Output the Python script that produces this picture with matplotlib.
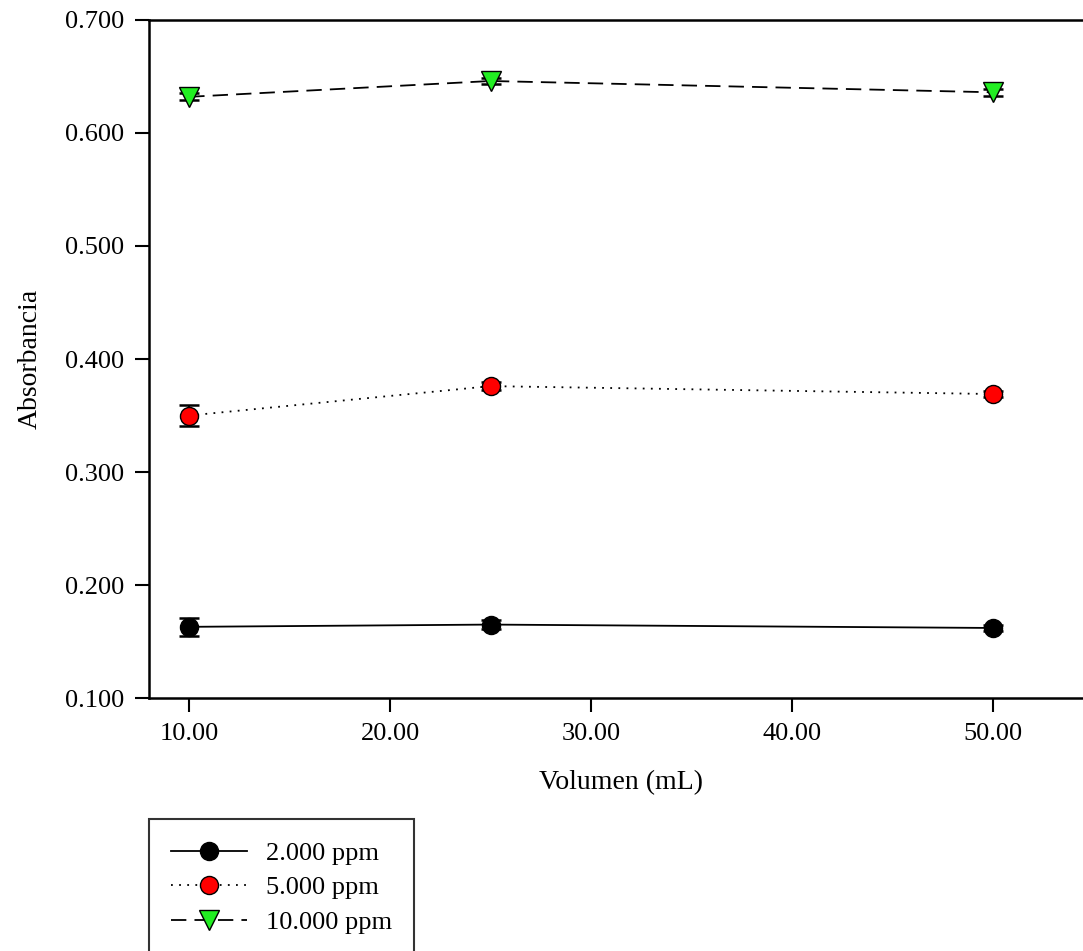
"""
absorbancia vs volumen - three concentrations with error bars
"""

import numpy as np
import matplotlib
matplotlib.use("Agg")
import matplotlib.pyplot as plt

plt.rcParams['font.family'] = ['Liberation Serif', 'DejaVu Serif']

volumen = [10, 25, 50]

abs_2000 = [0.163, 0.165, 0.162]
err_2000 = [0.008, 0.004, 0.003]

abs_5000 = [0.350, 0.376, 0.369]
err_5000 = [0.009, 0.0035, 0.003]

abs_10000 = [0.632, 0.646, 0.636]
err_10000 = [0.003, 0.003, 0.003]

labels = ['2.000 ppm', '5.000 ppm', '10.000 ppm']
xticks = [10, 20, 30, 40, 50]
yticks = [0.1, 0.2, 0.3, 0.4, 0.5, 0.6, 0.7]

fig = plt.figure(figsize=(10.83, 9.51), dpi=100)
ax = fig.add_axes([0.1376, 0.266, 0.872, 0.713])

series = [
    (abs_2000, err_2000, 'black', 'o', 13, '-'),
    (abs_5000, err_5000, 'red', 'o', 13, (0, (1, 3.5))),
    (abs_10000, err_10000, '#22ee22', 'v', 14, (0, (8.5, 4.5))),
]

handles = []
for (y, e, col, mk, ms, ls), lab in zip(series, labels):
    ax.errorbar(volumen, y, yerr=e, fmt='none', ecolor='black',
                elinewidth=1.5, capsize=7.5, capthick=1.8, zorder=2)
    h, = ax.plot(volumen, y, color='black', linestyle=ls, linewidth=1.3,
                 marker=mk, markersize=ms, markerfacecolor=col,
                 markeredgecolor='black', markeredgewidth=1.0, label=lab,
                 zorder=3)
    handles.append(h)

ax.set_xlim(8, 55)
ax.set_ylim(0.1, 0.7)
ax.set_xticks(xticks)
ax.set_xticklabels(['%.2f' % v for v in xticks])
ax.set_yticks(yticks)
ax.set_yticklabels(['%.3f' % v for v in yticks])
ax.tick_params(direction='out', length=10, width=1.5, labelsize=19, pad=8)

for s in ['left', 'bottom', 'top']:
    ax.spines[s].set_linewidth(1.8)
ax.spines['right'].set_visible(False)

ax.set_xlabel('Volumen (mL)', fontsize=20, labelpad=18)
ax.set_ylabel('Absorbancia', fontsize=20, labelpad=16)

leg = fig.legend(handles=handles, loc='upper left',
                 bbox_to_anchor=(0.1376, 1 - 819 / 951),
                 fontsize=19, handlelength=2.85, handletextpad=0.72,
                 borderpad=0.85, labelspacing=0.42, fancybox=False,
                 frameon=True, edgecolor='black', borderaxespad=0)
leg.get_frame().set_linewidth(1.5)

fig.savefig('out.png', dpi=100)
